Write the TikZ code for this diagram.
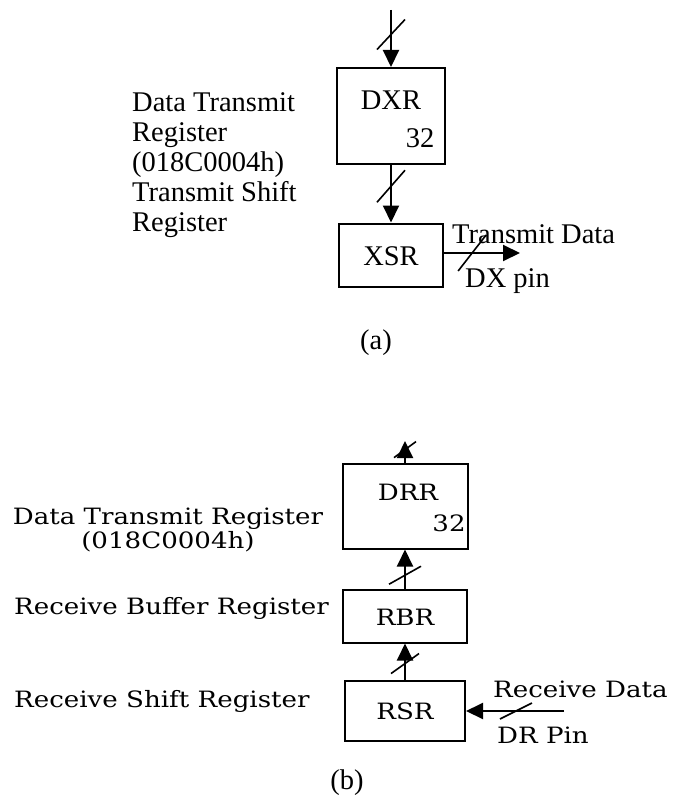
\documentclass[tikz,border=0pt]{standalone}
\usepackage{fontspec}
\setmainfont{Liberation Serif}
\newfontfamily\wideserif[FakeStretch=1.16]{DejaVu Serif}
\usetikzlibrary{calc}
\usetikzlibrary{arrows.meta}
\tikzset{
wire/.style={line width=2pt},
reg/.style={draw, wire, inner sep=0pt},
bus/.style={wire, -{Triangle[length=17pt,width=16pt]}},
slash/.style={line width=1.6pt},
txta/.style={font=\fontsize{28.5}{30}\selectfont, inner sep=0pt},
txtb/.style={font=\wideserif\fontsize{22.5}{20}\selectfont, inner sep=0pt},
}

\begin{document}
\begin{tikzpicture}[x=1pt,y=-1pt]
\useasboundingbox (0,0) rectangle (673,808);
%(a) transmit side
\coordinate (din) at (391,10);
\node[reg, minimum width=108pt, minimum height=96pt] (dxr) at (391,116) {};
\node[reg, minimum width=104pt, minimum height=63pt] (xsr) at (391,255) {};
\coordinate (dout) at (520,253);

\node[txta] (dxrname) at (391,100) {DXR};
\node[txta] (dxrw) at (420,138) {32};
\node[txta] (xsrname) at (391,256) {XSR};

\draw[bus] (din) to (dxr.north);
\draw[bus] (dxr.south) to (xsr.north);
\draw[bus] (xsr.east |- dout) to (dout);

\draw[slash] ($(din)!0.43!(dxr.north)$) ++(-14,15) -- ++(28,-30);
\draw[slash] ($(dxr.south)!0.37!(xsr.north)$) ++(-14,16) -- ++(28,-32);
\draw[slash] ($(xsr.east |- dout)!0.37!(dout)$) ++(-14,18) -- ++(28,-36);

\node[txta, align=left, anchor=north west] (txlbl) at (132,92) {Data Transmit\\Register\\(018C0004h)\\Transmit Shift\\Register};
\node[txta, anchor=base west] (txdata) at (452,243) {Transmit Data};
\node[txta, anchor=base west] (dxpin) at (465,287) {DX pin};
\node[txta] (capa) at (376,343) {(a)};

%(b) receive side
\coordinate (rout) at (405,441);
\node[reg, minimum width=125pt, minimum height=85pt] (drr) at (405,506) {};
\node[reg, minimum width=124pt, minimum height=53pt] (rbr) at (405,616) {};
\node[reg, minimum width=120pt, minimum height=60pt] (rsr) at (405,711) {};
\coordinate (rin) at (564,711);

\node[txtb] (drrname) at (408,492) {DRR};
\node[txtb] (drrw) at (449,523) {32};
\node[txtb] (rbrname) at (405,617) {RBR};
\node[txtb] (rsrname) at (405,711) {RSR};

\draw[bus] (drr.north) to (rout);
\draw[bus] (rbr.north) to (drr.south);
\draw[bus] (rsr.north) to (rbr.south);
\draw[bus] (rin) to (rsr.east);

\draw[slash] ($(drr.north)!0.6!(rout)$) ++(-11,8) -- ++(22,-16);
\draw[slash] ($(rbr.north)!0.34!(drr.south)$) ++(-16,9) -- ++(32,-18);
\draw[slash] ($(rsr.north)!0.45!(rbr.south)$) ++(-14,10) -- ++(28,-20);
\draw[slash] ($(rin)!0.49!(rsr.east)$) ++(-16,8) -- ++(32,-16);

\node[txtb, align=center] (rxlbl) at (168,530) {Data Transmit Register\\(018C0004h)};
\node[txtb, anchor=base west] (rbrlbl) at (14,614) {Receive Buffer Register};
\node[txtb, anchor=base west] (rsrlbl) at (14,707) {Receive Shift Register};
\node[txtb, anchor=base west] (rxdata) at (493,697) {Receive Data};
\node[txtb, anchor=base west] (drpin) at (497,743) {DR Pin};
\node[txta] (capb) at (347,783) {(b)};
\end{tikzpicture}
\end{document}
